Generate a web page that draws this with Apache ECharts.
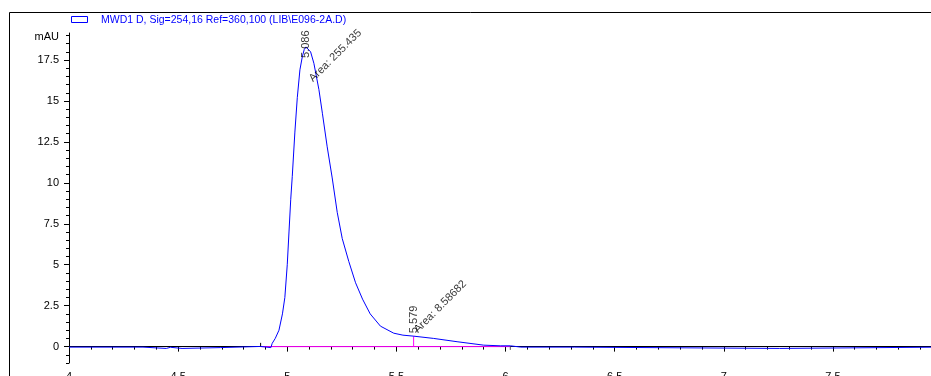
<!DOCTYPE html>
<html>
<head>
<meta charset="utf-8">
<script src="https://cdn.jsdelivr.net/npm/echarts@6/dist/echarts.min.js"></script>
<style>
  html, body { margin: 0; padding: 0; background: #fff; }
  #chart { width: 931px; height: 376px; }
</style>
</head>
<body>
<div id="chart"></div>
<script>
// ---- data ----
const seriesName = 'MWD1 D, Sig=254,16 Ref=360,100 (LIB\\E096-2A.D)';
const yUnit = 'mAU';
const times = [4.0, 4.339, 4.341, 4.446, 4.452, 4.465, 4.471, 4.518, 4.522, 4.693, 4.697, 4.878, 4.884, 4.925, 4.931, 4.945, 4.962, 4.978, 4.989, 5.0, 5.008, 5.016, 5.023, 5.035, 5.046, 5.058, 5.069, 5.078, 5.086, 5.095, 5.107, 5.122, 5.145, 5.161, 5.183, 5.206, 5.229, 5.252, 5.282, 5.313, 5.345, 5.38, 5.427, 5.488, 5.53, 5.579, 5.671, 5.778, 5.9, 5.976, 6.022, 6.07, 6.315, 6.32, 7.255, 7.26, 8.0];
const signal = [-0.03, -0.03, -0.11, -0.11, -0.04, -0.04, -0.11, -0.11, -0.06, -0.06, 0.01, 0.01, -0.06, -0.06, 0.2, 0.5, 1.0, 2.0, 3.0, 5.0, 7.0, 9.0, 10.4, 13.1, 15.2, 16.9, 17.7, 18.15, 18.3, 18.25, 18.0, 17.3, 15.7, 14.25, 12.2, 10.3, 8.2, 6.6, 5.2, 3.9, 2.9, 2.0, 1.25, 0.82, 0.7, 0.64, 0.5, 0.3, 0.09, 0.05, 0.05, -0.03, -0.03, -0.11, -0.11, -0.03, -0.03];
const peakTimes = [5.086, 5.579];
const peakHeights = [18.3, 0.64];
const peakAreas = ['255.435', '8.58682'];
const integStart = [4.878, 0];
const integEnd = [6.022, 0];
const startMarkTop = 0.23;
const endMarkBottom = -0.2;
const yTickLabels = [0, 2.5, 5, 7.5, 10, 12.5, 15, 17.5];
const yMinorTicks = [-1, -0.5, 0.5, 1, 1.5, 2, 3, 3.5, 4, 4.5, 5.5, 6, 6.5, 7, 8, 8.5, 9, 9.5, 10.5, 11, 11.5, 12, 13, 13.5, 14, 14.5, 15.5, 16, 16.5, 17, 18, 18.5, 19];
const xMin = 4, xMax = 8, xStep = 0.5;
const yMin = -1, yMax = 19.15;

// ---- chart ----
const FONT = 'Liberation Sans';
const BLUE = '#0000ff';
const chart = echarts.init(document.getElementById('chart'), null, { renderer: 'canvas' });

const curve = times.map((t, i) => [t, signal[i]]);
const timeLabelOffsets = [[-11, 0], [3, 0]];
const areaLabelOffsets = [[-20, 27], [5, -2]];

const timeLabelData = peakTimes.map((t, i) => ({
  value: [t, peakHeights[i]],
  label: { offset: timeLabelOffsets[i] }
}));
const areaLabelData = peakTimes.map((t, i) => ({
  value: [t, peakHeights[i]],
  label: { offset: areaLabelOffsets[i], formatter: 'Area: ' + peakAreas[i] }
}));
const dropLines = peakTimes.slice(1).map((t, i) => [[t, 0], [t, peakHeights[i + 1]]]);

const series = [
  {
    name: seriesName, type: 'line', data: curve, symbol: 'none',
    lineStyle: { color: BLUE, width: 1 },
    itemStyle: { color: BLUE }, z: 5
  },
  {
    name: 'baseline', type: 'line', data: [integStart, integEnd], symbol: 'none',
    lineStyle: { color: '#ff00ff', width: 1 }, z: 4
  },
  {
    name: 'startMark', type: 'line', data: [integStart, [integStart[0], startMarkTop]], symbol: 'none',
    lineStyle: { color: '#000', width: 1 }, z: 4
  },
  {
    name: 'endMark', type: 'line', data: [integEnd, [integEnd[0], endMarkBottom]], symbol: 'none',
    lineStyle: { color: '#555', width: 1 }, z: 4
  }
];
dropLines.forEach((d, i) => series.push({
  name: 'drop' + i, type: 'line', data: d, symbol: 'none',
  lineStyle: { color: '#ff00ff', width: 1 }, z: 4
}));
series.push({
  name: 'rtLabels', type: 'scatter', data: timeLabelData, symbolSize: 0, z: 6,
  label: {
    show: true, position: 'inside', rotate: 90, align: 'left', verticalAlign: 'middle',
    color: '#000', fontSize: 11, fontFamily: FONT, formatter: p => p.value[0].toFixed(3)
  }
});
series.push({
  name: 'areaLabels', type: 'scatter', data: areaLabelData, symbolSize: 0, z: 6,
  label: {
    show: true, position: 'inside', rotate: 45, align: 'left', verticalAlign: 'middle',
    color: '#000', fontSize: 11, fontFamily: FONT
  }
});

const option = {
  animation: false,
  backgroundColor: '#fff',
  grid: { left: 69, right: -11, top: 33, bottom: 13, containLabel: false, outerBoundsMode: 'none' },
  legend: {
    left: 71, top: 15, padding: 0, itemWidth: 16, itemHeight: 6, selectedMode: false,
    icon: 'rect',
    itemStyle: { opacity: 0 },
    lineStyle: { opacity: 0 },
    data: [seriesName],
    textStyle: { color: BLUE, fontSize: 10.5, fontFamily: FONT, padding: [0, 0, 0, 9] }
  },
  xAxis: {
    type: 'value', min: xMin, max: xMax, interval: xStep,
    axisLine: { show: true, lineStyle: { color: '#000', width: 1 } },
    axisTick: { show: true, inside: false, length: 5, lineStyle: { color: '#000' } },
    minorTick: { show: true, splitNumber: 5, length: 3, lineStyle: { color: '#000' } },
    splitLine: { show: false },
    axisLabel: { color: '#000', fontSize: 11, fontFamily: FONT, margin: 8, showMaxLabel: true }
  },
  yAxis: [
    {
      type: 'value', min: yMin, max: yMax,
      axisLine: { show: true, lineStyle: { color: '#000', width: 1 } },
      axisTick: { show: true, inside: false, length: 5, customValues: yTickLabels, lineStyle: { color: '#000' } },
      splitLine: { show: false },
      axisLabel: { color: '#000', fontSize: 11, fontFamily: FONT, margin: 10, customValues: yTickLabels }
    },
    {
      type: 'value', min: yMin, max: yMax, position: 'left',
      axisLine: { show: false },
      axisTick: { show: true, inside: false, length: 3, customValues: yMinorTicks, lineStyle: { color: '#000' } },
      splitLine: { show: false },
      axisLabel: { show: false }
    }
  ],
  graphic: [
    { type: 'polyline', shape: { points: [[9.5, 376], [9.5, 12.5], [931, 12.5]] }, style: { stroke: '#000', lineWidth: 1, fill: null }, silent: true },
    { type: 'rect', shape: { x: 71.5, y: 16.5, width: 16, height: 6 }, style: { stroke: BLUE, lineWidth: 1, fill: null }, silent: true, z: 100 },
    { type: 'text', x: 59, y: 37, style: { text: yUnit, fill: '#000', font: '11px "Liberation Sans"', textAlign: 'right', textVerticalAlign: 'middle' } }
  ],
  series: series
};
chart.setOption(option);
</script>
</body>
</html>
